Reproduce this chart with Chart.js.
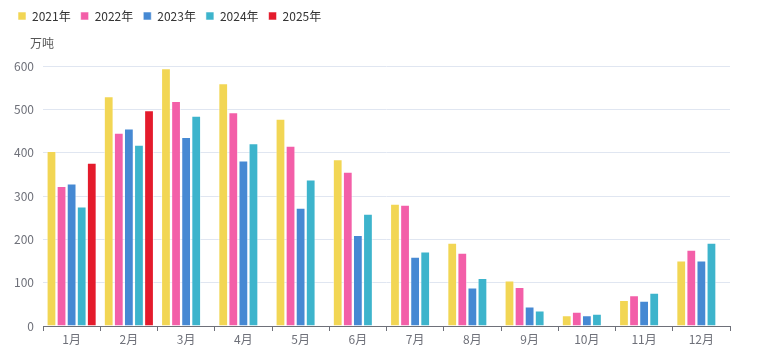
<!DOCTYPE html>
<html>
<head>
<meta charset="utf-8">
<script src="https://cdn.jsdelivr.net/npm/chart.js@4"></script>
<style>
html,body{margin:0;padding:0;background:#fff;}
#wrap{width:763px;height:356px;position:relative;}
</style>
</head>
<body>
<div id="wrap"><canvas id="c" width="763" height="356"></canvas></div>
<script>
const categories = ['1月','2月','3月','4月','5月','6月','7月','8月','9月','10月','11月','12月'];
const seriesNames = ['2021年','2022年','2023年','2024年','2025年'];
const y2021 = [404, 530, 595, 560, 478, 385, 282, 192, 105, 25, 60, 151];
const y2022 = [323, 446, 519, 493, 416, 356, 280, 169, 90, 33, 71, 176];
const y2023 = [329, 456, 436, 382, 273, 210, 160, 89, 45, 25, 58, 151];
const y2024 = [276, 418, 485, 422, 338, 259, 172, 111, 36, 28, 77, 192];
const y2025 = [377, 498, null, null, null, null, null, null, null, null, null, null];
const yTicks = [0, 100, 200, 300, 400, 500, 600];
const unitLabel = '万吨';

const colors = ['#f2d654', '#f35fa8', '#4689d3', '#3db4cc', '#e41b2c'];
const seriesData = [y2021, y2022, y2023, y2024, y2025];

const FONT = '"Noto Sans CJK SC", "Noto Sans", sans-serif';

const unitPlugin = {
  id: 'unitLabel',
  afterDraw(chart) {
    const ctx = chart.ctx;
    ctx.save();
    ctx.font = '12px ' + FONT;
    ctx.fillStyle = '#555';
    ctx.textAlign = 'left';
    ctx.textBaseline = 'middle';
    ctx.fillText(unitLabel, 30, 43);
    ctx.restore();
  }
};

const legendHeightPlugin = {
  id: 'legendHeight',
  beforeInit(chart) {
    const origFit = chart.legend.fit;
    chart.legend.fit = function () {
      origFit.bind(chart.legend)();
      this.height = 66;
    };
  }
};

new Chart(document.getElementById('c'), {
  type: 'bar',
  data: {
    labels: categories,
    datasets: seriesNames.map((n, i) => ({
      label: n,
      data: seriesData[i],
      backgroundColor: colors[i],
      borderColor: 'rgba(255,255,255,0.55)',
      borderWidth: 1,
      barPercentage: 0.97,
      categoryPercentage: 0.88
    }))
  },
  options: {
    responsive: false,
    animation: false,
    layout: { padding: { left: 8, right: 33, top: 0, bottom: 0 } },
    plugins: {
      legend: {
        position: 'top',
        align: 'start',
        labels: {
          boxWidth: 8,
          boxHeight: 8,
          padding: 10,
          color: '#333',
          font: { size: 12, family: FONT }
        }
      },
      tooltip: { enabled: false }
    },
    scales: {
      x: {
        grid: {
          display: true,
          drawOnChartArea: false,
          drawTicks: true,
          tickLength: 5,
          color: '#6e7079',
          offset: true
        },
        border: { display: true, color: '#6e7079', width: 1 },
        ticks: { color: '#6e7079', font: { size: 12, family: FONT }, padding: 1, maxRotation: 0 },
        afterFit(scale) { scale.height = 30; }
      },
      y: {
        min: 0,
        max: 600,
        afterBuildTicks(scale) { scale.ticks = yTicks.map(v => ({ value: v })); },
        grid: { color: '#e0e6f1', drawTicks: false },
        border: { display: false },
        ticks: { color: '#6e7079', font: { size: 12, family: FONT }, padding: 9 },
        afterFit(scale) { scale.width = 35; }
      }
    }
  },
  plugins: [unitPlugin, legendHeightPlugin]
});
</script>
</body>
</html>
